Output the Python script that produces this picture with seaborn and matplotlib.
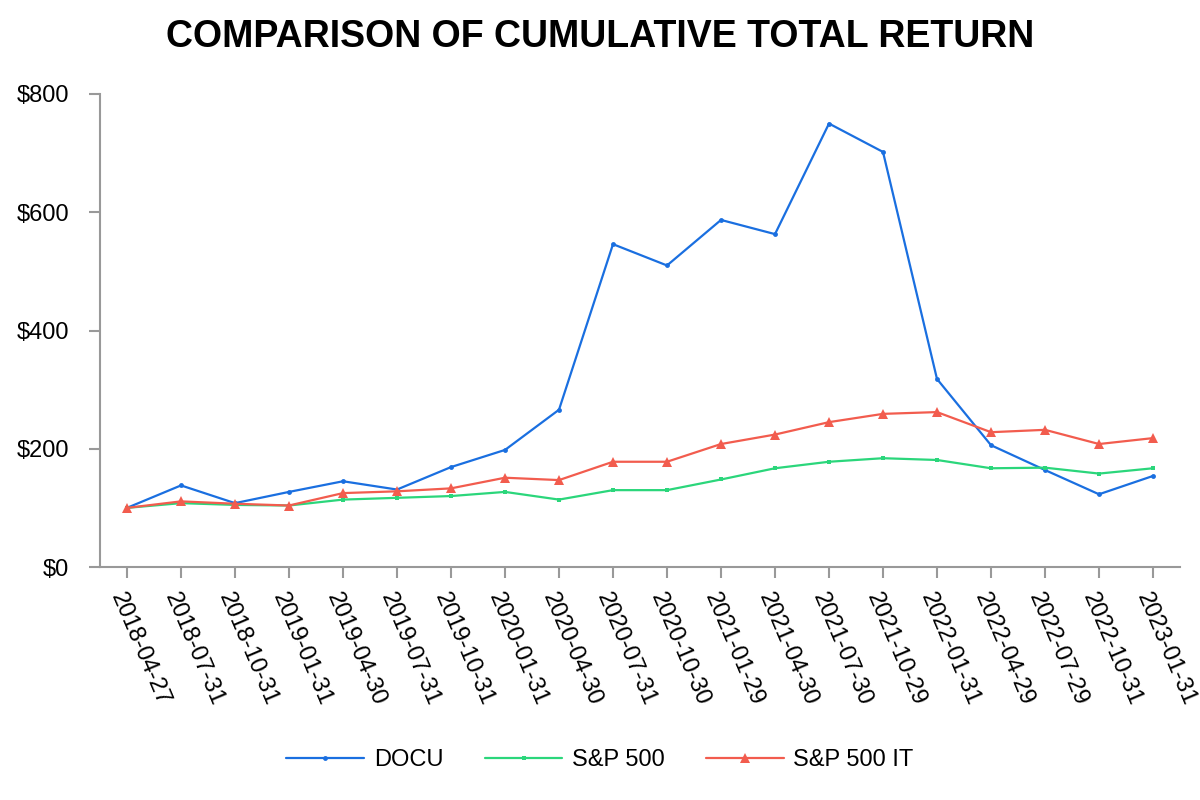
import matplotlib
matplotlib.use("Agg")
import matplotlib.pyplot as plt
import seaborn as sns
import pandas as pd
from matplotlib.lines import Line2D

dates = ["2018-04-27", "2018-07-31", "2018-10-31", "2019-01-31", "2019-04-30",
         "2019-07-31", "2019-10-31", "2020-01-31", "2020-04-30", "2020-07-31",
         "2020-10-30", "2021-01-29", "2021-04-30", "2021-07-30", "2021-10-29",
         "2022-01-31", "2022-04-29", "2022-07-29", "2022-10-31", "2023-01-31"]
docu = [100, 138, 108, 127, 145, 131, 169, 198, 266, 546,
        510, 587, 563, 750, 702, 318, 206, 164, 123, 154]
sp500 = [100, 108, 105, 104, 114, 117, 120, 127, 114, 130,
         130, 148, 167, 178, 184, 181, 167, 168, 158, 167]
sp500_it = [100, 111, 107, 104, 125, 128, 133, 151, 147, 178,
            178, 208, 224, 245, 259, 262, 228, 232, 208, 218]
series_names = ["DOCU", "S&P 500", "S&P 500 IT"]
y_ticks = [0, 200, 400, 600, 800]

sns.set_style("white")
plt.rcParams['font.family'] = ['Liberation Sans', 'DejaVu Sans']
plt.rcParams['text.color'] = 'black'
plt.rcParams['xtick.labelcolor'] = 'black'
plt.rcParams['ytick.labelcolor'] = 'black'

rows = []
for name, vals in zip(series_names, [docu, sp500, sp500_it]):
    for i, (d, v) in enumerate(zip(dates, vals)):
        rows.append({"idx": i, "date": d, "value": v, "series": name})
df = pd.DataFrame(rows)

palette = {"DOCU": "#1a6fe0", "S&P 500": "#2bd67b", "S&P 500 IT": "#f25c4e"}
markers = {"DOCU": "o", "S&P 500": "s", "S&P 500 IT": "^"}
msizes = {"DOCU": 3.5, "S&P 500": 3.5, "S&P 500 IT": 7}

fig = plt.figure(figsize=(12, 8), dpi=100)
ax = fig.add_axes([100/1200, 1 - 567/800, 1080/1200, (567-94)/800])

sns.lineplot(data=df, x="idx", y="value", hue="series", style="series",
             palette=palette, markers=markers, dashes=False, linewidth=1.6,
             markeredgewidth=0, ax=ax, legend=False)
for line, name in zip(ax.get_lines(), series_names):
    line.set_markersize(msizes[name])

ax.set_xlim(-0.5, len(dates) - 0.5)
ax.set_ylim(0, 800)
ax.set_yticks(y_ticks)
ax.set_yticklabels([f"${t}" for t in y_ticks], fontsize=17)
ax.set_xticks(range(len(dates)))
ax.set_xticklabels(dates, fontsize=17, rotation=-67, ha="left", va="top",
                   rotation_mode="anchor")
ax.set_xlabel("")
ax.set_ylabel("")
for s in ["top", "right"]:
    ax.spines[s].set_visible(False)
for s in ["left", "bottom"]:
    ax.spines[s].set_color("#999999")
    ax.spines[s].set_linewidth(1.5)
ax.tick_params(axis="both", which="major", direction="out", length=8,
               width=1.5, color="#999999", labelcolor="black",
               bottom=True, left=True)
ax.tick_params(axis="x", pad=8)
ax.tick_params(axis="y", pad=14)

handles = [Line2D([], [], color=palette[n], marker=markers[n], linewidth=1.6,
                  markersize=msizes[n], markeredgewidth=0) for n in series_names]
fig.legend(handles, series_names, loc="center", bbox_to_anchor=(0.5, 1 - 760/800),
           ncol=3, frameon=False, fontsize=17, handlelength=3.3,
           columnspacing=1.75, handletextpad=0.4)

fig.text(0.5, 1 - 37/800, "COMPARISON OF CUMULATIVE TOTAL RETURN",
         ha="center", va="center", fontsize=27, fontweight="bold", color="black")

fig.savefig("out.png", dpi=100)
